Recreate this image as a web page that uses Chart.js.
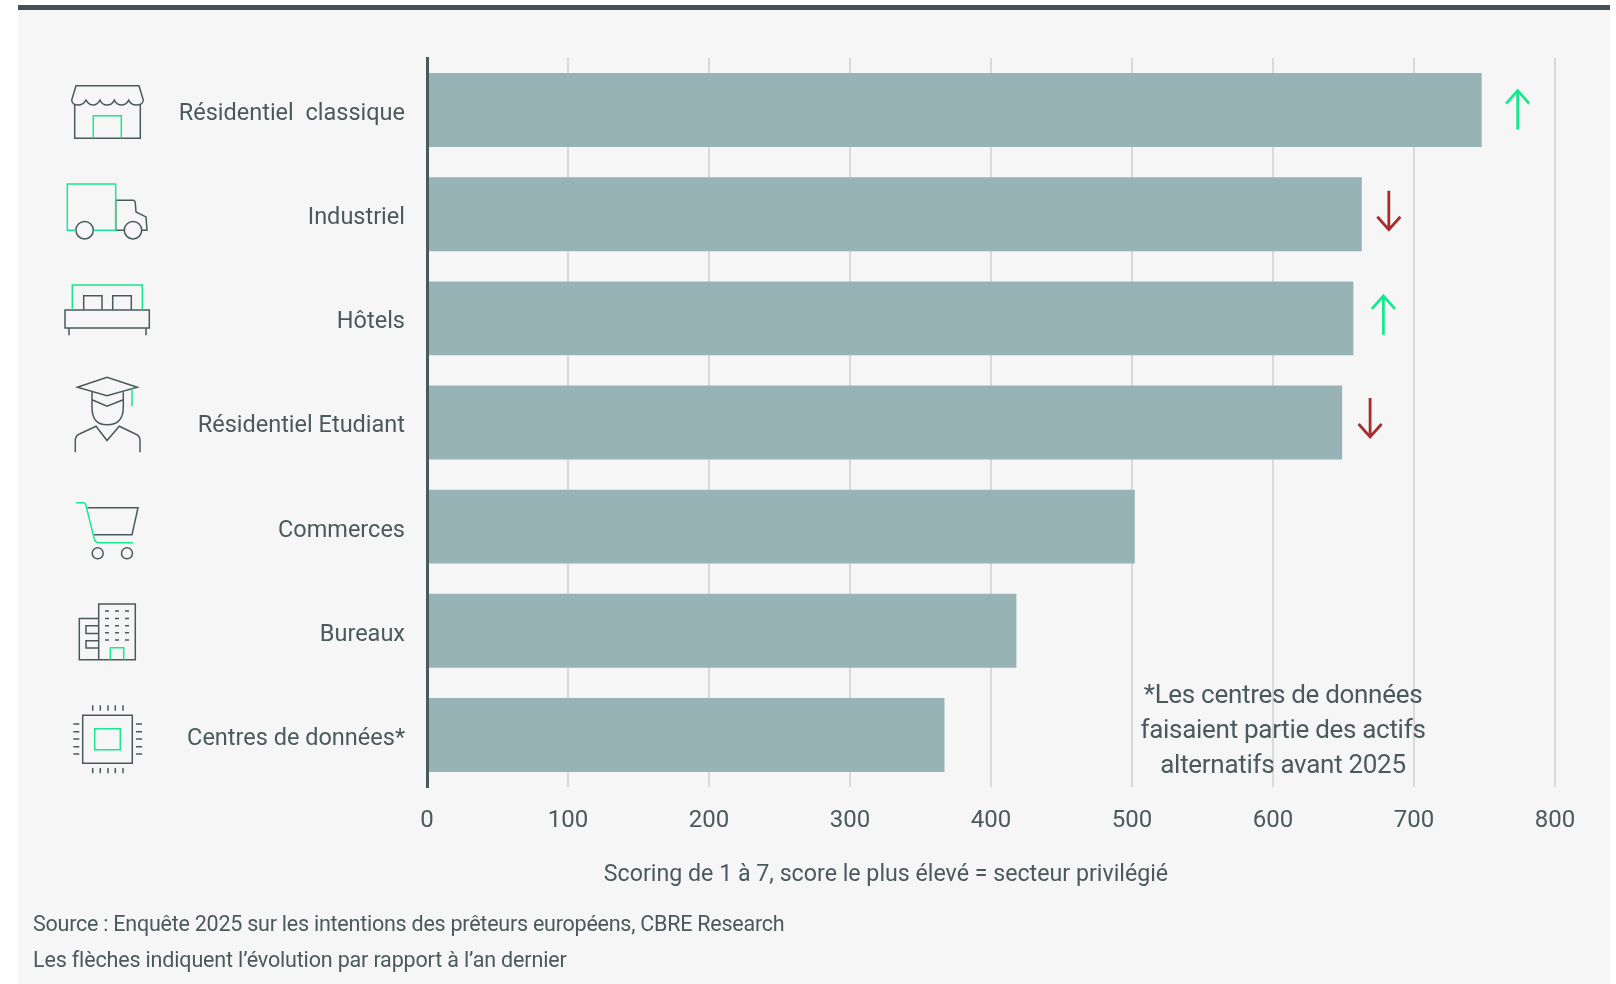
<!DOCTYPE html>
<html lang="fr">
<head>
<meta charset="utf-8">
<title>Secteurs privilégiés par les prêteurs européens</title>
<script src="https://cdn.jsdelivr.net/npm/chart.js@4/dist/chart.umd.min.js"></script>
<style>
    html, body { margin: 0; padding: 0; background: #ffffff; }
    #page { position: relative; width: 1616px; height: 984px; overflow: hidden; }
    #panel { position: absolute; left: 18px; top: 5px; width: 1592px; height: 979px; background: #f6f6f6; border-top: 5px solid #435254; box-sizing: border-box; }
    #chart { position: absolute; left: 0; top: 0; }
    .note { position: absolute; font-family: Roboto, sans-serif; color: #4a5a5c; white-space: nowrap; }
    #axisNote { left: 886px; top: 873px; transform: translate(-50%, -50%); font-size: 23.2px; }
    #source { left: 33px; top: 923px; transform: translateY(-50%); font-size: 21.5px; letter-spacing: -0.24px; }
    #arrowsNote { left: 33px; top: 959px; transform: translateY(-50%); font-size: 21.5px; letter-spacing: -0.16px; }
    #dataCentreNote { left: 1283px; top: 677px; width: 0; display: flex; flex-direction: column; align-items: center; font-size: 26px; line-height: 35px; letter-spacing: -0.3px; }
</style>
</head>
<body>
<div id="page">
    <div id="panel"></div>
    <canvas id="chart" width="1616" height="984"></canvas>
    <div class="note" id="axisNote">Scoring de 1 à 7, score le plus élevé = secteur privilégié</div>
    <div class="note" id="source">Source : Enquête 2025 sur les intentions des prêteurs européens, CBRE Research</div>
    <div class="note" id="arrowsNote">Les flèches indiquent l’évolution par rapport à l’an dernier</div>
    <div class="note" id="dataCentreNote">
        <span>*Les centres de données</span>
        <span>faisaient partie des actifs</span>
        <span>alternatifs avant 2025</span>
    </div>
</div>

<script>
const categories = ['Résidentiel  classique', 'Industriel', 'Hôtels', 'Résidentiel Etudiant', 'Commerces', 'Bureaux', 'Centres de données*'];
const scores = [748, 663, 657, 649, 502, 418, 367];
// 1 = en hausse, -1 = en baisse, 0 = pas de flèche
const trends = [1, -1, 1, -1, 0, 0, 0];

const INK = '#4a5a5c';
const BAR = '#98b3b5';
const GRID = '#d9d9d9';
const GREEN = '#17e88f';
const RED = '#a82c2c';
const FONT = 'Roboto, sans-serif';

// Décalage de chaque flèche par rapport au bout de sa barre
const arrowDx = [36, 27, 30, 28, 0, 0, 0];
const arrowDy = [0, -4, -3, -5, 0, 0, 0];

// Pictogrammes : tracés SVG relatifs au centre de la ligne
const ICON_X = 107;
const icons = [
    {
        ink: 'M-31-24.3H32L36.3-10Q36-5 29.5-5Q24-5 21.7-10Q19-5 14.5-5Q10-5 7.3-10Q5-5 0-5Q-5-5-7-10Q-10-5-14-5Q-18-5-21-10Q-24-5-29-5Q-35-5-35.3-10ZM-32.3-6V28.3H33.3V-6',
        accent: 'M-13.7 28.3V5.7H14.3V28.3'
    },
    {
        ink: 'M8.7 16V-14H26.3Q28-14 28.3-11L29-2.3L39 2.7L40 16H35.3M8.7 16H17M-13.7 16a8.7 8.7 0 1 1-17.4 0a8.7 8.7 0 1 1 17.4 0M34.7 16a8.7 8.7 0 1 1-17.4 0a8.7 8.7 0 1 1 17.4 0',
        accent: 'M-31 16H-39.7V-30.3H8.7V16H-13.3'
    },
    {
        ink: 'M-42-8.3H42.3V9.7H-42ZM-23.3-8.3V-22.7H-5V-8.3M5.7-8.3V-22.7H24.3V-8.3M-38 9.7V17M39 9.7V17',
        accent: 'M-34.7-8.3V-33.3H35.3V-8.3'
    },
    {
        ink: 'M-29.7-35.3L0-45.3L30.3-35.3L0-26.7ZM-15-30.3V-15.3Q-15 2.3 0 2.3Q16.3 2.3 16.3-15.3V-30.3M-15-22.7L0-16.3L16.3-22.7M-31.7 29.7V18Q-31.7 13-27 11.3L-11 3.7L0 18L12.3 3.7L28 11.3Q33 13 33 18V29.7',
        accent: 'M25-33.7V-16.3'
    },
    {
        ink: 'M-19.7-19H31L25 8H-13.7M-3.8 26.7a5.5 5.5 0 1 1-11 0a5.5 5.5 0 1 1 11 0M25.5 26.7a5.5 5.5 0 1 1-11 0a5.5 5.5 0 1 1 11 0',
        accent: 'M-31-24H-23.7Q-21.5-24-21-21L-12.7 12.3Q-12 16-8 16H26'
    },
    {
        ink: 'M-8.3 29V-26.7H28.3V29H-27.7V-12.3H-8.3M-8.3-5H-21V2.7H-8.3M-8.3 10H-21V17.3H-8.3' +
            'M-2-19.7H2M8-19.7H12M18-19.7H22M-2-12.3H2M8-12.3H12M18-12.3H22M-2-5H2M8-5H12M18-5H22M-2 2H2M8 2H12M18 2H22M-2 9.3H2M8 9.3H12M18 9.3H22',
        accent: 'M3.3 29V17H16.7V29'
    },
    {
        ink: 'M-24.3-19.7H25.3V28.3H-24.3Z' +
            'M-14.3-29.7V-24.3M-6.7-29.7V-24.3M1-29.7V-24.3M8.3-29.7V-24.3M16-29.7V-24.3' +
            'M-14.3 33V38.3M-6.7 33V38.3M1 33V38.3M8.3 33V38.3M16 33V38.3' +
            'M-33.7-11H-27.7M-33.7-3.3H-27.7M-33.7 4H-27.7M-33.7 11.7H-27.7M-33.7 19H-27.7' +
            'M29-11H35M29-3.3H35M29 4H35M29 11.7H35M29 19H35',
        accent: 'M-12.3-6.3H13.3V14.7H-12.3Z'
    }
];

/**
 * Dessine les pictogrammes à gauche des libellés de chaque ligne.
 */
const iconPlugin = {
    id: 'rowIcons',
    afterDraw(chart) {
        const { ctx, scales } = chart;
        icons.forEach((icon, i) => {
            ctx.save();
            ctx.translate(ICON_X, scales.y.getPixelForValue(i));
            ctx.lineWidth = 1.5;
            ctx.strokeStyle = INK;
            ctx.stroke(new Path2D(icon.ink));
            ctx.strokeStyle = GREEN;
            ctx.stroke(new Path2D(icon.accent));
            ctx.restore();
        });
    }
};

/**
 * Dessine les flèches d'évolution au bout des barres.
 */
const arrowPlugin = {
    id: 'trendArrows',
    afterDatasetsDraw(chart) {
        const { ctx, scales } = chart;
        trends.forEach((trend, i) => {
            if (!trend) return;
            const x = scales.x.getPixelForValue(scores[i]) + arrowDx[i];
            const y = scales.y.getPixelForValue(i) + arrowDy[i];
            const tip = y - trend * 19.5;
            ctx.save();
            ctx.strokeStyle = trend > 0 ? GREEN : RED;
            ctx.lineWidth = 2.8;
            ctx.beginPath();
            ctx.moveTo(x, y + trend * 19.5);
            ctx.lineTo(x, tip);
            ctx.moveTo(x - 11.5, tip + trend * 13);
            ctx.lineTo(x, tip);
            ctx.lineTo(x + 11.5, tip + trend * 13);
            ctx.stroke();
            ctx.restore();
        });
    }
};

new Chart(document.getElementById('chart'), {
    type: 'bar',
    data: {
        labels: categories,
        datasets: [{
            data: scores,
            backgroundColor: BAR,
            borderWidth: 0,
            barPercentage: 0.71,
            categoryPercentage: 1
        }]
    },
    options: {
        indexAxis: 'y',
        responsive: false,
        animation: false,
        layout: { padding: { top: 58, right: 61, bottom: 97, left: 0 } },
        scales: {
            x: {
                min: 0,
                max: 800,
                afterFit(scale) { scale.height = 100; },
                border: { display: false },
                grid: {
                    drawTicks: false,
                    lineWidth: 2,
                    color: ctx => ctx.tick.value === 0 ? 'transparent' : GRID
                },
                ticks: {
                    stepSize: 100,
                    padding: 20,
                    maxRotation: 0,
                    color: INK,
                    font: { family: FONT, size: 24 }
                }
            },
            y: {
                afterFit(scale) { scale.width = 427; },
                border: { color: INK, width: 3, z: 1 },
                grid: { display: false, drawTicks: false },
                ticks: {
                    padding: 22,
                    labelOffset: 4,
                    color: INK,
                    font: { family: FONT, size: 23.5 }
                }
            }
        },
        plugins: {
            legend: { display: false },
            tooltip: { enabled: false }
        }
    },
    plugins: [arrowPlugin, iconPlugin]
});
</script>
</body>
</html>
